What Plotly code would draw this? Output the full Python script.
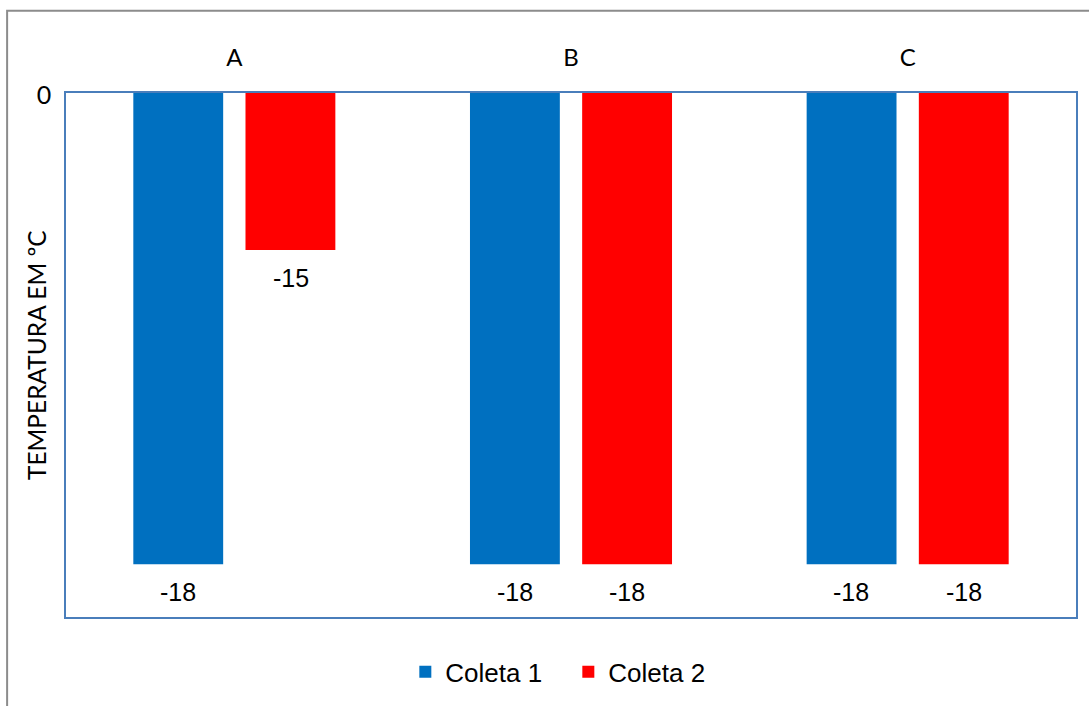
import plotly.graph_objects as go

# Data
categories = ["A", "B", "C"]
coleta1 = [-18, -18, -18]
coleta2 = [-15, -18, -18]
series_names = ["Coleta 1", "Coleta 2"]
colors = ["#0070C0", "#FF0000"]

W, H = 1089, 706
left, right, top, bottom = 66, 1078, 92.5, 618
plot_w = right - left
plot_h = bottom - top

fig = go.Figure()
for name, vals, col in zip(series_names, [coleta1, coleta2], colors):
    fig.add_trace(go.Bar(
        x=categories, y=vals, name=name,
        marker=dict(color=col, line=dict(width=0)),
        hoverinfo="x+y+name",
    ))

# value labels under each bar end
cat_w = plot_w / len(categories)
bargap, bargroupgap = 0.3336, 0.199
slot = cat_w * (1 - bargap) / 2
for i, vals in enumerate([coleta1, coleta2]):
    shift = (i - 0.5) * slot
    for c, v in zip(categories, vals):
        fig.add_annotation(
            x=c, y=v, text=str(v), showarrow=False,
            xshift=shift, yshift=-28, yanchor="middle",
            font=dict(family="Liberation Sans, Arial", size=25, color="#000000"),
        )

# y axis title
fig.add_annotation(
    xref="paper", yref="paper", x=(36 - left) / plot_w, y=0.5,
    text="TEMPERATURA EM ºC", textangle=-90, showarrow=False,
    xanchor="center", yanchor="middle",
    font=dict(family="Lato", size=24.5, color="#000000"),
)

# outer chart frame
fig.add_shape(
    type="rect", xref="paper", yref="paper",
    x0=(7 - left) / plot_w, x1=(W + 8 - left) / plot_w,
    y0=(bottom - 10) / plot_h, y1=(bottom - (H + 8)) / plot_h,
    line=dict(color="#8C8C8C", width=2), fillcolor="rgba(0,0,0,0)", layer="below",
)

y_top = -13.5
y_bottom = -18.505

fig.update_layout(
    width=W, height=H,
    margin=dict(l=left, r=W - right, t=top, b=H - bottom, pad=0),
    paper_bgcolor="white", plot_bgcolor="white",
    barmode="group", bargap=bargap, bargroupgap=bargroupgap,
    showlegend=True,
    legend=dict(
        orientation="h", x=(406 - left) / plot_w, xanchor="left",
        y=(bottom - 673) / plot_h, yanchor="middle",
        font=dict(family="Liberation Sans, Arial", size=26, color="#000000"),
        entrywidth=118, entrywidthmode="pixels",
        itemclick=False, itemdoubleclick=False, traceorder="normal",
        bgcolor="rgba(0,0,0,0)",
    ),
    xaxis=dict(
        side="top", showgrid=False, zeroline=False,
        showline=True, mirror=True, linecolor="#4A7EBB", linewidth=1.5,
        ticks="", ticklabelstandoff=16,
        tickfont=dict(family="Lato", size=24, color="#000000"),
    ),
    yaxis=dict(
        range=[y_bottom, y_top], showgrid=False, zeroline=False,
        showline=True, mirror=True, linecolor="#4A7EBB", linewidth=1.5,
        tickvals=[y_top], ticktext=["0"], ticks="", ticklabelstandoff=8,
        ticklabelshift=2,
        tickfont=dict(family="Lato", size=25, color="#000000"),
    ),
)

fig.write_html("out.html")
